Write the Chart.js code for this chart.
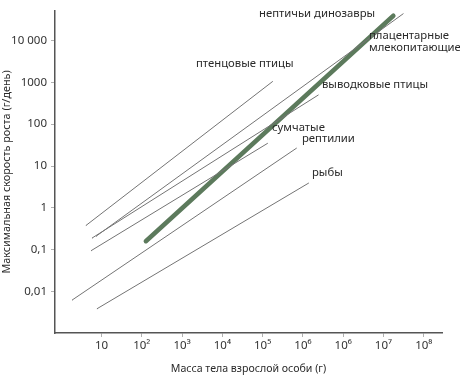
<!DOCTYPE html>
<html lang="ru">
<head>
<meta charset="UTF-8">
<script src="https://cdn.jsdelivr.net/npm/chart.js"></script>
<title>Скорость роста</title>
<style>
  body { margin: 0; background: #fff; }
  #box { width: 460px; height: 375px; }
</style>
</head>
<body>
<div id="box"><canvas id="grafico"></canvas></div>
<script>
// группы и их линии регрессии: масса (г) и скорость (г/день) на концах
const grupos = ['птенцовые птицы', 'выводковые птицы', 'сумчатые', 'плацентарные млекопитающие', 'рептилии', 'рыбы', 'нептичьи динозавры']
const massaInicio = [4.1, 5.8, 5.5, 7.3, 1.86, 7.7, 126]
const massaFim = [1.76e5, 2.4e6, 1.32e5, 3.08e8, 6.9e5, 1.38e6, 1.76e8]
const taxaInicio = [0.38, 0.19, 0.095, 0.21, 0.0063, 0.0039, 0.16]
const taxaFim = [1040, 495, 34.7, 43150, 26.6, 3.9, 38800]

// marcas dos eixos (o original repete 10⁶)
const xTicks = [10, 1e2, 1e3, 1e4, 1e5, 1e6, 1e7, 1e8, 1e9]
const xTickLabels = ['10', '10²', '10³', '10⁴', '10⁵', '10⁶', '10⁶', '10⁷', '10⁸']
const yTicks = [0.01, 0.1, 1, 10, 100, 1000, 10000]
const yTickLabels = ['0,01', '0,1', '1', '10', '100', '1000', '10 000']

// textos das linhas e onde ficam (pixels)
const rotulos = [
  { t: ['птенцовые птицы'], x: 196, y: 64 },
  { t: ['выводковые птицы'], x: 322, y: 85 },
  { t: ['сумчатые'], x: 272, y: 128 },
  { t: ['плацентарные', 'млекопитающие'], x: 369, y: 36 },
  { t: ['рептилии'], x: 302, y: 139 },
  { t: ['рыбы'], x: 312, y: 173 },
  { t: ['нептичьи динозавры'], x: 259, y: 14 }
]

const fonte = "'Noto Sans', sans-serif"
const cinza = '#747474'
const verde = '#5c7a5c'

const datasets = grupos.map((g, i) => ({
  label: g,
  data: [{ x: massaInicio[i], y: taxaInicio[i] }, { x: massaFim[i], y: taxaFim[i] }],
  borderColor: i === 6 ? verde : cinza,
  borderWidth: i === 6 ? 4.5 : 1,
  borderCapStyle: 'round',
  pointRadius: 0,
  fill: false
}))

const textos = {
  id: 'textos',
  afterDatasetsDraw(chart) {
    const c = chart.ctx
    c.save()
    c.font = '11.3px ' + fonte
    c.fillStyle = '#2a2a2a'
    c.textBaseline = 'middle'
    rotulos.forEach(r => {
      r.t.forEach((linha, k) => c.fillText(linha, r.x, r.y + k * 12))
    })
    c.restore()
  }
}

const ctx = document.getElementById('grafico')
new Chart(ctx, {
  type: 'line',
  data: { datasets: datasets },
  options: {
    responsive: true,
    maintainAspectRatio: false,
    animation: false,
    layout: { padding: { left: 0, right: 18, top: 0, bottom: 0 } },
    plugins: { legend: { display: false }, tooltip: { enabled: false } },
    scales: {
      x: {
        type: 'logarithmic',
        min: 0.748,
        max: 2.84e9,
        afterBuildTicks: s => { s.ticks = xTicks.map(v => ({ value: v })) },
        afterFit: s => { s.height = 42 },
        grid: { drawOnChartArea: false, drawTicks: true, tickLength: 4, color: '#b0b0b0' },
        border: { color: '#555', width: 1.5 },
        ticks: {
          autoSkip: false, maxRotation: 0, padding: 2, color: '#333',
          font: { family: fonte, size: 11.5 },
          callback: (v, i) => xTickLabels[i]
        },
        title: {
          display: true, text: 'Масса тела взрослой особи (г)', color: '#2a2a2a',
          padding: 0, font: { family: fonte, size: 10.6 }
        }
      },
      y: {
        type: 'logarithmic',
        min: 0.00103,
        max: 50600,
        afterBuildTicks: s => { s.ticks = yTicks.map(v => ({ value: v })) },
        afterFit: s => { s.width = 55 },
        grid: { drawOnChartArea: false, drawTicks: true, tickLength: 4, color: '#b0b0b0' },
        border: { color: '#555', width: 1.5 },
        ticks: {
          autoSkip: false, padding: 4, color: '#333',
          font: { family: fonte, size: 11.5 },
          callback: (v, i) => yTickLabels[i]
        },
        title: {
          display: true, text: 'Максимальная скорость роста (г/день)', color: '#2a2a2a',
          padding: 0, font: { family: fonte, size: 10.8 }
        }
      }
    }
  },
  plugins: [textos]
})
</script>
</body>
</html>
